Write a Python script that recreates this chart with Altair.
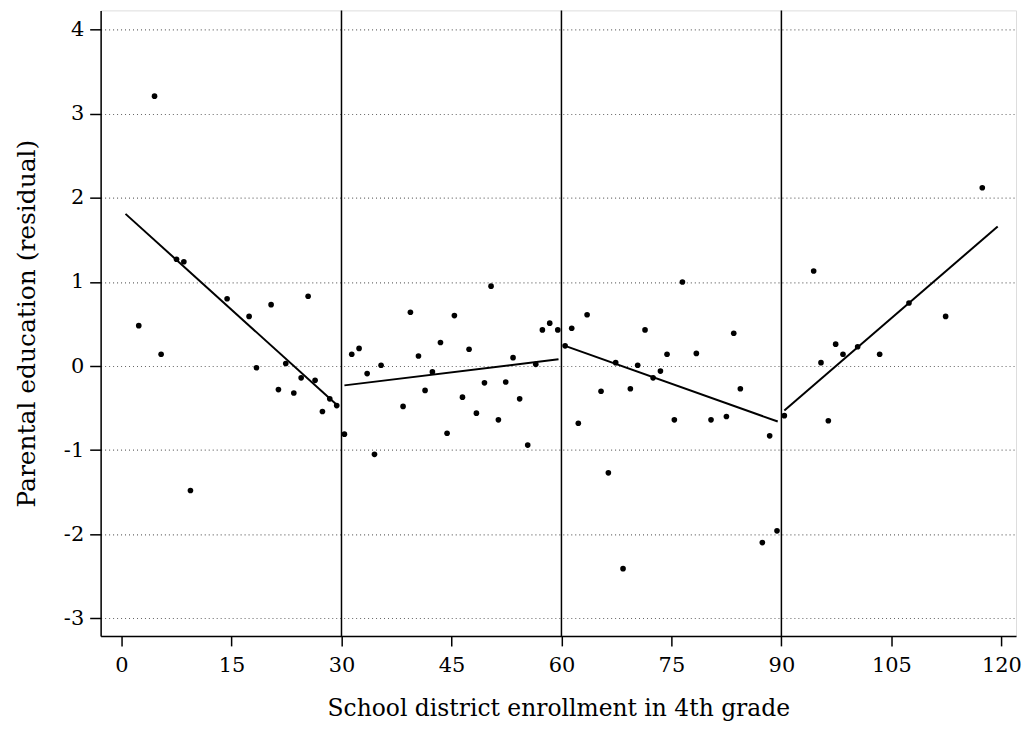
import altair as alt
import pandas as pd

# scatter points (enrollment, residual parental education)
px = [2.35, 4.5, 5.4, 7.5, 8.5, 9.4, 14.4, 17.4, 18.4, 20.4, 21.4, 22.4, 23.5, 24.5,
      25.45, 26.4, 27.4, 28.4, 29.35, 30.4, 31.4, 32.4, 33.5, 34.5, 35.4, 38.4, 39.4,
      40.5, 41.4, 42.4, 43.5, 44.4, 45.4, 46.5, 47.4, 48.4, 49.5, 50.4, 51.4, 52.4,
      53.4, 54.3, 55.4, 56.5, 57.4, 58.4, 59.5, 60.5, 61.4, 62.3, 63.5, 65.4, 66.4,
      67.4, 68.4, 69.4, 70.4, 71.4, 72.5, 73.5, 74.4, 75.4, 76.5, 78.4, 80.4, 82.5,
      83.5, 84.4, 87.4, 88.4, 89.4, 90.4, 94.4, 95.4, 96.4, 97.4, 98.4, 100.4, 103.4,
      107.4, 112.4, 117.4]
py = [0.48, 3.21, 0.14, 1.27, 1.24, -1.48, 0.80, 0.59, -0.02, 0.73, -0.28, 0.03, -0.32,
      -0.14, 0.83, -0.17, -0.54, -0.39, -0.47, -0.81, 0.14, 0.21, -0.09, -1.05, 0.01,
      -0.48, 0.64, 0.12, -0.29, -0.07, 0.28, -0.80, 0.60, -0.37, 0.20, -0.56, -0.20,
      0.95, -0.64, -0.19, 0.10, -0.39, -0.94, 0.02, 0.43, 0.51, 0.43, 0.24, 0.45, -0.68,
      0.61, -0.30, -1.27, 0.04, -2.41, -0.27, 0.01, 0.43, -0.14, -0.06, 0.14, -0.64,
      1.00, 0.15, -0.64, -0.60, 0.39, -0.27, -2.10, -0.83, -1.96, -0.59, 1.13, 0.04,
      -0.65, 0.26, 0.14, 0.23, 0.14, 0.75, 0.59, 2.12]

# fitted line segments (endpoints)
fit_seg = [1, 1, 2, 2, 3, 3, 4, 4]
fit_x = [0.54, 29.35, 30.4, 59.6, 60.5, 89.5, 90.4, 119.5]
fit_y = [1.81, -0.46, -0.23, 0.08, 0.24, -0.66, -0.53, 1.66]

cutoffs = [30, 60, 90]
x_ticks = [0, 15, 30, 45, 60, 75, 90, 105, 120]
y_ticks = [-3, -2, -1, 0, 1, 2, 3, 4]

pts = pd.DataFrame({"x": px, "y": py})
fit = pd.DataFrame({"seg": fit_seg, "x": fit_x, "y": fit_y})
cuts = pd.DataFrame({"c": cutoffs})

FONT = "DejaVu Serif"
xs = alt.Scale(domain=[-2.85, 122], nice=False, zero=False)
ys = alt.Scale(domain=[-3.21, 4.23], nice=False, zero=False)

xax = alt.Axis(values=x_ticks, title="School district enrollment in 4th grade",
               grid=False, tickSize=10, labelPadding=9, titlePadding=21,
               labelFont=FONT, labelFontSize=21, titleFont=FONT, titleFontSize=23.5,
               titleFontWeight="normal", labelColor="black", titleColor="black",
               domainColor="black", tickColor="black", domainWidth=1.5, tickWidth=1.5,
               labelFlush=False)
yax = alt.Axis(values=y_ticks, title="Parental education (residual)",
               labelExpr="'' + datum.value",
               grid=True, gridDash=[1, 3], gridColor="#666", gridWidth=1.2,
               tickSize=11, labelPadding=6, titlePadding=24,
               labelFont=FONT, labelFontSize=21,
               titleFont=FONT, titleFontSize=25, titleFontWeight="normal",
               labelColor="black", titleColor="black",
               domainColor="black", tickColor="black", domainWidth=1.5, tickWidth=1.5)

points = alt.Chart(pts).mark_circle(size=32, color="black", opacity=1).encode(
    x=alt.X("x:Q", scale=xs, axis=xax),
    y=alt.Y("y:Q", scale=ys, axis=yax),
)

rules = alt.Chart(cuts).mark_rule(color="black", strokeWidth=1.5).encode(
    x=alt.X("c:Q", scale=xs),
)

lines = alt.Chart(fit).mark_line(color="black", strokeWidth=2).encode(
    x=alt.X("x:Q", scale=xs),
    y=alt.Y("y:Q", scale=ys),
    detail="seg:N",
)

chart = alt.layer(rules, points, lines).properties(
    width=919, height=628,
    padding={"left": 6, "top": 0, "right": 0, "bottom": 0},
).configure_view(stroke=None).configure(background="white")

chart.save("out.html", embed_options={"renderer": "svg", "actions": False})
